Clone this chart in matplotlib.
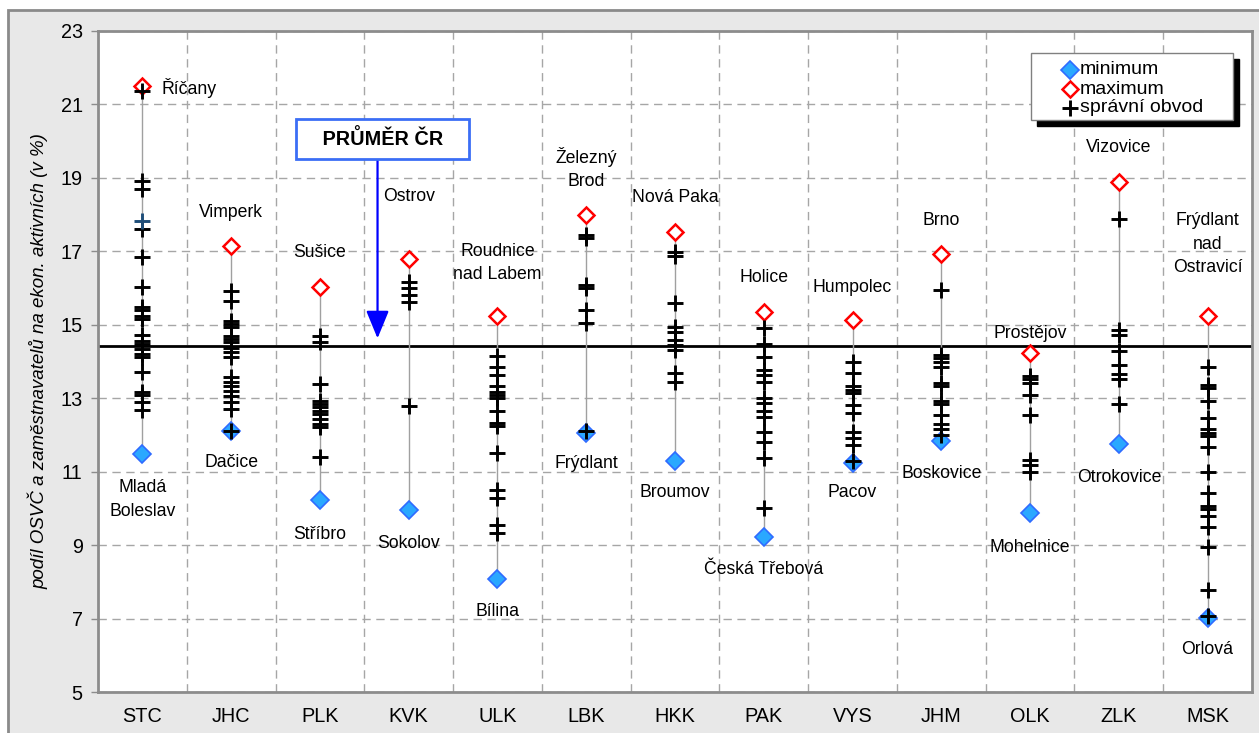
import matplotlib
matplotlib.use("Agg")
import matplotlib.pyplot as plt
from matplotlib.patches import Rectangle
from matplotlib.lines import Line2D

plt.rcParams['font.family'] = ['Liberation Sans', 'DejaVu Sans']

# ---------------- data ----------------
regions = ["STC", "JHC", "PLK", "KVK", "ULK", "LBK", "HKK", "PAK", "VYS", "JHM", "OLK", "ZLK", "MSK"]

min_values = [11.47, 12.12, 10.22, 9.95, 8.07, 12.05, 11.30, 9.22, 11.24, 11.84, 9.87, 11.74, 7.01]
max_values = [21.50, 17.15, 16.04, 16.78, 15.24, 18.00, 17.54, 15.35, 15.13, 16.93, 14.24, 18.88, 15.23]

min_names = ["Mladá\nBoleslav", "Dačice", "Stříbro", "Sokolov", "Bílina", "Frýdlant", "Broumov",
             "Česká Třebová", "Pacov", "Boskovice", "Mohelnice", "Otrokovice", "Orlová"]
max_names = ["Říčany", "Vimperk", "Sušice", "Ostrov", "Roudnice\nnad Labem", "Železný\nBrod",
             "Nová Paka", "Holice", "Humpolec", "Brno", "Prostějov", "Vizovice",
             "Frýdlant\nnad\nOstravicí"]

obvody_STC = [21.36, 18.92, 18.69, 17.61, 16.84, 16.04, 15.48, 15.39, 15.25, 15.16, 14.71, 14.57,
              14.48, 14.35, 14.21, 14.12, 13.71, 13.17, 13.08, 12.90, 12.67]
obvody_JHC = [15.92, 15.65, 15.11, 15.02, 14.93, 14.70, 14.61, 14.52, 14.38, 14.25, 14.11, 13.57,
              13.43, 13.34, 13.21, 13.07, 12.89, 12.71, 12.12]
obvody_PLK = [14.70, 14.52, 13.39, 12.93, 12.84, 12.75, 12.66, 12.57, 12.43, 12.30, 12.21, 11.39]
obvody_KVK = [16.17, 15.99, 15.81, 15.63, 12.78]
obvody_ULK = [14.14, 13.86, 13.64, 13.32, 13.18, 13.09, 13.00, 12.64, 12.32, 12.23, 11.51, 10.51,
              10.29, 9.56, 9.34]
obvody_LBK = [17.44, 17.35, 16.08, 15.99, 15.40, 15.04, 12.10]
obvody_HKK = [16.98, 16.86, 15.58, 14.95, 14.81, 14.58, 14.45, 14.31, 13.68, 13.45]
obvody_PAK = [14.90, 14.49, 14.13, 13.77, 13.63, 13.45, 13.00, 12.86, 12.64, 12.50, 12.09, 11.82,
              11.37, 10.01]
obvody_VYS = [14.00, 13.68, 13.32, 13.23, 13.14, 12.82, 12.60, 12.09, 11.91, 11.73, 11.28]
obvody_JHM = [15.94, 14.19, 14.10, 14.00, 13.85, 13.42, 13.32, 12.93, 12.83, 12.54, 12.30, 12.16,
              12.01]
obvody_OLK = [13.61, 13.51, 13.42, 13.08, 12.54, 11.33, 11.18, 10.99]
obvody_ZLK = [17.88, 14.87, 14.73, 14.29, 13.90, 13.66, 13.51, 12.83]
obvody_MSK = [13.85, 13.37, 13.27, 12.93, 12.45, 12.16, 12.06, 11.96, 11.67, 10.99, 10.41, 10.07,
              9.97, 9.78, 9.49, 8.95, 7.79, 7.06]
obvody = [obvody_STC, obvody_JHC, obvody_PLK, obvody_KVK, obvody_ULK, obvody_LBK, obvody_HKK,
          obvody_PAK, obvody_VYS, obvody_JHM, obvody_OLK, obvody_ZLK, obvody_MSK]

highlight_region = 0
highlight_value = 17.83

prumer_cr = 14.42
y_ticks = [5, 7, 9, 11, 13, 15, 17, 19, 21, 23]

legend_labels = ["minimum", "maximum", "správní obvod"]

# label offsets (pixels) – layout only
max_label_dy = [0, 33, 34, 63, 53, 46, 34, 34, 33, 33, 19, 35, 72]
min_label_dy = [-45, -32, -34, -33, -32, -30, -32, -32, -30, -33, -34, -33, -31]

# ---------------- styles ----------------
MIN_STYLE = dict(marker="D", markersize=9, markerfacecolor="#2aa8ff",
                 markeredgecolor="#2f6bff", markeredgewidth=1.2)
MAX_STYLE = dict(marker="D", markersize=8.5, markerfacecolor="white",
                 markeredgecolor="#ff0000", markeredgewidth=1.8)
OBV_STYLE = dict(marker="+", markersize=11.5, markeredgewidth=2.1, color="black")
LABEL_FS = 12.7
LINESP = 1.5

# ---------------- figure ----------------
W, H = 1259, 733
fig = plt.figure(figsize=(W / 100, H / 100), dpi=100, facecolor="white")
frame = Rectangle((8 / W, -0.2), 1.2, 1.2 - 10 / H, transform=fig.transFigure,
                  facecolor="#e8e8e8", edgecolor="#8a8a8a", linewidth=2.0, zorder=-10)
fig.patches.append(frame)

ax = fig.add_axes([98 / W, (H - 692) / H, (1252 - 98) / W, (692 - 31) / H])
ax.set_facecolor("white")
for s in ax.spines.values():
    s.set_color("#8c8c8c")
    s.set_linewidth(2.0)

n = len(regions)
xs = list(range(n))
ax.set_xlim(-0.5, n - 0.5)
ax.set_ylim(5, 23)
ax.set_yticks(y_ticks)
ax.set_yticklabels([str(t) for t in y_ticks], fontsize=14.3)
ax.set_xticks(xs)
ax.set_xticklabels(regions, fontsize=14.3)
ax.set_xticks([i + 0.5 for i in range(n - 1)], minor=True)
ax.tick_params(axis="x", which="both", length=0, pad=11)
ax.tick_params(axis="y", which="major", length=5, color="#8c8c8c", width=1, pad=6)
ax.yaxis.grid(True, linestyle=(0, (6, 4)), color="#a6a6a6", linewidth=1.0)
ax.xaxis.grid(True, which="minor", linestyle=(0, (6, 4)), color="#a6a6a6", linewidth=1.0)
ax.xaxis.grid(False, which="major")
ax.set_axisbelow(True)

ax.set_ylabel("podíl OSVČ a zaměstnavatelů na ekon. aktivních (v %)", fontsize=13.5,
              style="italic", family=["Liberation Sans Narrow", "Liberation Sans"], labelpad=9)

# mean line
ax.axhline(prumer_cr, color="black", linewidth=2.0, zorder=2)

# vertical range lines
ax.vlines(xs, min_values, max_values, color="#a0a0a0", linewidth=1.0, zorder=3)

# min / max markers
ax.plot(xs, min_values, linestyle="none", zorder=4, **MIN_STYLE)
ax.plot(xs, max_values, linestyle="none", zorder=4, **MAX_STYLE)

# districts
for i, vals in enumerate(obvody):
    ax.plot([i] * len(vals), vals, linestyle="none", zorder=5, **OBV_STYLE)
hl = dict(OBV_STYLE)
hl["color"] = "#1f4e79"
ax.plot([highlight_region], [highlight_value], linestyle="none", zorder=5, **hl)

# labels
for i in range(n):
    if i == 0:
        ax.annotate(max_names[i], (i, max_values[i]), xytext=(19, -2), textcoords="offset pixels",
                    ha="left", va="center", fontsize=LABEL_FS)
    else:
        ax.annotate(max_names[i], (i, max_values[i]), xytext=(0, max_label_dy[i]),
                    textcoords="offset pixels", ha="center", va="center", fontsize=LABEL_FS,
                    multialignment="center", linespacing=LINESP)
    ax.annotate(min_names[i], (i, min_values[i]), xytext=(0, min_label_dy[i]),
                textcoords="offset pixels", ha="center", va="center", fontsize=LABEL_FS,
                multialignment="center", linespacing=LINESP)

# PRŮMĚR ČR callout
ax.annotate("", xy=(2.649, 14.63), xytext=(2.649, 19.55),
            arrowprops=dict(arrowstyle="-|>,head_length=1.7,head_width=0.7", color="#0000ff",
                            lw=1.6, mutation_scale=10, shrinkA=0, shrinkB=0), zorder=6)
ax.text(2.705, 20.06, "   PRŮMĚR ČR   ", ha="center", va="center", fontsize=14.3,
        fontweight="bold", zorder=7,
        bbox=dict(boxstyle="square,pad=0.5", facecolor="white", edgecolor="#3b6ef5",
                  linewidth=2.0))

# legend (drawn manually in figure pixels)
def fx(px):
    return px / W


def fy(py):
    return 1 - py / H


fig.patches.append(Rectangle((fx(1037), fy(126)), fx(1239) - fx(1037), fy(59) - fy(126),
                             transform=fig.transFigure, facecolor="black", edgecolor="black",
                             zorder=20))
fig.patches.append(Rectangle((fx(1031), fy(120)), fx(1233) - fx(1031), fy(53) - fy(120),
                             transform=fig.transFigure, facecolor="white", edgecolor="#808080",
                             linewidth=1.0, zorder=21))
leg_styles = [MIN_STYLE, MAX_STYLE, OBV_STYLE]
for k, (lab, st) in enumerate(zip(legend_labels, leg_styles)):
    yy = fy(70 + 19 * k)
    fig.add_artist(Line2D([fx(1070)], [yy], transform=fig.transFigure, linestyle="none",
                          zorder=22, **st))
    fig.text(fx(1080), yy, lab, ha="left", va="center", fontsize=14, zorder=22)

fig.savefig("out.png", dpi=100, facecolor=fig.get_facecolor())
